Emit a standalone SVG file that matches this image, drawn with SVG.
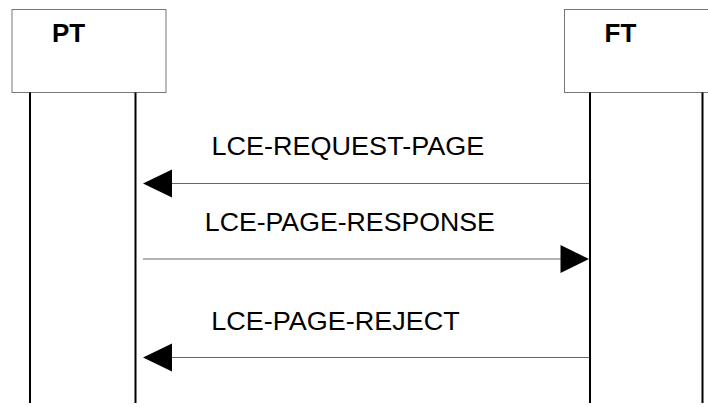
<svg xmlns="http://www.w3.org/2000/svg" width="708" height="407" viewBox="0 0 708 407">
<style>
.box{fill:#fff;stroke:#777;stroke-width:1}
.life{stroke:#000;stroke-width:2}
.msg{stroke:#666;stroke-width:1.2;fill:none}
.head{fill:#000}
.lbl{font-family:"Liberation Sans",Arial,sans-serif;font-size:25px;fill:#000}
.name{font-family:"Liberation Sans",Arial,sans-serif;font-size:26px;font-weight:bold;fill:#000}
</style>
<rect width="708" height="407" fill="#fff"/>
<g id="PT">
<rect class="box" x="12" y="9.5" width="154" height="83"/>
<text class="name" x="52" y="42">PT</text>
<line class="life" x1="30" y1="92.5" x2="30" y2="403"/>
<line class="life" x1="135.5" y1="92.5" x2="135.5" y2="403"/>
</g>
<g id="FT">
<rect class="box" x="564.5" y="9.5" width="160" height="83"/>
<text class="name" x="604.5" y="42">FT</text>
<line class="life" x1="590" y1="92.5" x2="590" y2="403"/>
<line class="life" x1="702.5" y1="92.5" x2="702.5" y2="403"/>
</g>
<g id="connectors">
<line class="msg" x1="172" y1="183.5" x2="589" y2="183.5"/>
<polygon class="head" points="143,183.5 172,169.5 172,197.5"/>
<text class="lbl" x="211.5" y="155" textLength="272.7" lengthAdjust="spacingAndGlyphs">LCE-REQUEST-PAGE</text>
<line class="msg" x1="143" y1="259" x2="561" y2="259"/>
<polygon class="head" points="589,259 560.5,245 560.5,273"/>
<text class="lbl" x="204.8" y="231" textLength="290" lengthAdjust="spacingAndGlyphs">LCE-PAGE-RESPONSE</text>
<line class="msg" x1="172" y1="357.5" x2="589" y2="357.5"/>
<polygon class="head" points="143,357.5 172,343.5 172,371.5"/>
<text class="lbl" x="211.3" y="330" textLength="248.5" lengthAdjust="spacingAndGlyphs">LCE-PAGE-REJECT</text>
</g>
</svg>
